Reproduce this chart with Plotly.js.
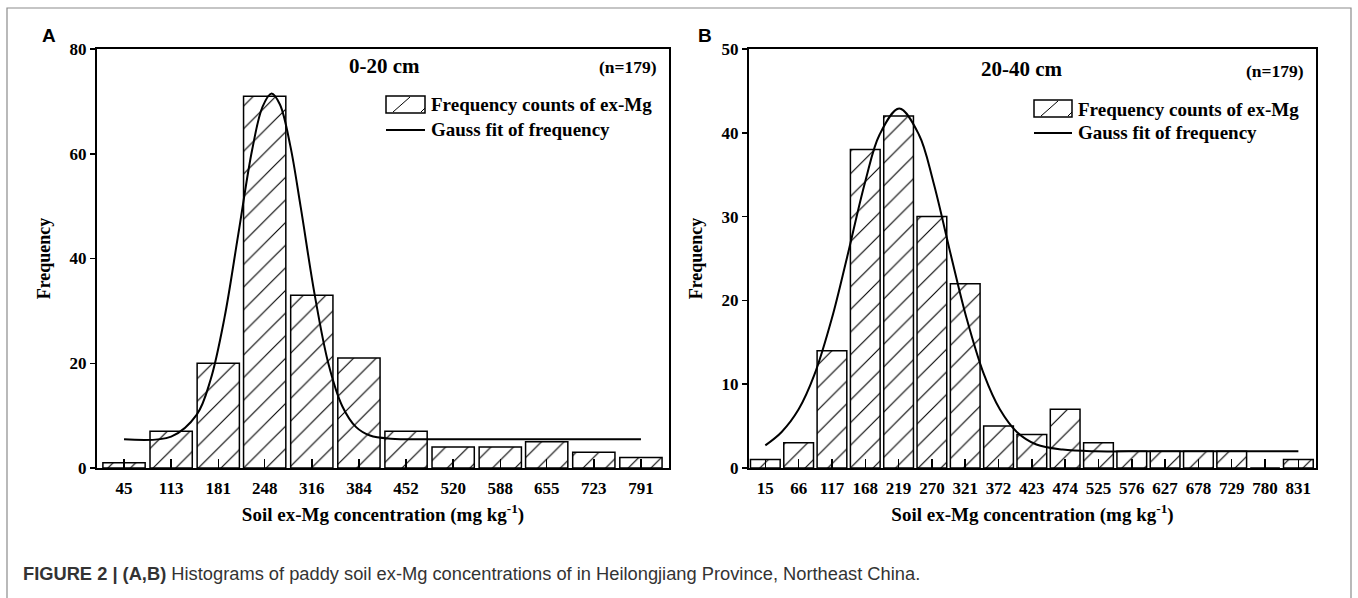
<!DOCTYPE html>
<html>
<head>
<meta charset="utf-8">
<script src="https://cdn.plot.ly/plotly-3.0.1.min.js"></script>
<style>html,body{margin:0;padding:0;background:#fff;}#chart{width:1358px;height:598px;}</style>
</head>
<body>
<div id="chart"></div>
<script>
// ---- Panel A (0-20 cm) ----
var binsA = [45, 113, 181, 248, 316, 384, 452, 520, 588, 655, 723, 791];
var countsA = [1, 7, 20, 71, 33, 21, 7, 4, 4, 5, 3, 2];
var fitXA = [45, 113, 150, 170, 190, 210, 230, 245, 258, 270, 285, 300, 320, 340, 360, 380, 400, 430, 500, 600, 700, 791];
var fitYA = [5.5, 6.0, 10.2, 16.9, 28.7, 44.7, 60.8, 69.0, 71.5, 69.4, 61.5, 49.8, 33.2, 19.9, 11.8, 7.8, 6.2, 5.6, 5.5, 5.5, 5.5, 5.5];

// ---- Panel B (20-40 cm) ----
var binsB = [15, 66, 117, 168, 219, 270, 321, 372, 423, 474, 525, 576, 627, 678, 729, 780, 831];
var countsB = [1, 3, 14, 38, 42, 30, 22, 5, 4, 7, 3, 2, 2, 2, 2, 0, 1];
var fitXB = [15, 40, 66, 90, 117, 140, 168, 190, 220, 250, 272, 300, 323, 350, 374, 400, 430, 470, 520, 600, 700, 831];
var fitYB = [2.7, 4.3, 7.0, 11.1, 17.9, 25.1, 34.2, 39.8, 42.9, 39.8, 34.2, 25.1, 17.9, 11.1, 7.0, 4.3, 2.8, 2.2, 2.0, 2.0, 2.0, 2.0];

var yTicksA = [0, 20, 40, 60, 80];
var yTicksB = [0, 10, 20, 30, 40, 50];

var W = 1358, H = 598;
function px(x) { return x / W; }
function py(y) { return 1 - y / H; }

var serif = 'Liberation Serif, Times New Roman, serif';
var sans = 'Liberation Sans, Arial, sans-serif';

var barPattern = {shape: '/', size: 16, solidity: 0.07, fgcolor: '#000', bgcolor: '#fff', fillmode: 'replace'};

var traces = [
  {type: 'bar', x: binsA, y: countsA, width: 61, xaxis: 'x', yaxis: 'y',
   marker: {color: '#fff', pattern: barPattern, line: {color: '#000', width: 1.5}},
   name: 'Frequency counts of ex-Mg', showlegend: false, hoverinfo: 'x+y'},
  {type: 'scatter', mode: 'lines', x: fitXA, y: fitYA, xaxis: 'x', yaxis: 'y',
   line: {color: '#000', width: 2, shape: 'spline', smoothing: 1},
   name: 'Gauss fit of frequency', showlegend: false},
  {type: 'bar', x: binsB, y: countsB, width: 45.5, xaxis: 'x2', yaxis: 'y2',
   marker: {color: '#fff', pattern: barPattern, line: {color: '#000', width: 1.5}},
   name: 'Frequency counts of ex-Mg', showlegend: false, hoverinfo: 'x+y'},
  {type: 'scatter', mode: 'lines', x: fitXB, y: fitYB, xaxis: 'x2', yaxis: 'y2',
   line: {color: '#000', width: 2, shape: 'spline', smoothing: 1},
   name: 'Gauss fit of frequency', showlegend: false}
];

var tickFont = {family: serif, size: 17, color: '#000', weight: 'bold'};

function xAxis(domain, range, vals) {
  return {
    domain: domain, range: range, type: 'linear',
    tickmode: 'array', tickvals: vals, ticktext: vals.map(String),
    ticks: 'inside', ticklen: 9, tickwidth: 1.5, tickcolor: '#000',
    showline: true, linecolor: '#000', linewidth: 2, mirror: true,
    showgrid: false, zeroline: false,
    tickfont: tickFont, ticklabelstandoff: 4,
    title: {text: '<b>Soil ex-Mg concentration (mg kg<sup>-1</sup>)</b>', font: {family: serif, size: 19, color: '#000'}, standoff: 10},
    fixedrange: true
  };
}
function yAxis(domain, range, vals, anchor) {
  return {
    domain: domain, range: range, anchor: anchor,
    tickmode: 'array', tickvals: vals, ticktext: vals.map(String),
    ticks: 'outside', ticklen: 5, tickwidth: 1.5, tickcolor: '#000',
    showline: true, linecolor: '#000', linewidth: 2, mirror: true,
    showgrid: false, zeroline: false,
    tickfont: tickFont,
    title: {text: '<b>Frequency</b>', font: {family: serif, size: 18, color: '#000'}, standoff: 14},
    fixedrange: true
  };
}

var yDom = [py(468), py(49)];

function ann(x, y, text, size, family, anchor, color) {
  return {xref: 'paper', yref: 'paper', x: px(x), y: py(y), xanchor: anchor || 'center', yanchor: 'middle',
          text: text, showarrow: false, font: {family: family, size: size, color: color || '#000'}};
}

var layout = {
  width: W, height: H,
  margin: {l: 0, r: 0, t: 0, b: 0},
  paper_bgcolor: '#fff', plot_bgcolor: '#fff',
  showlegend: false,
  bargap: 0,
  xaxis: xAxis([px(97), px(669)], [6, 831.5], binsA),
  yaxis: yAxis(yDom, [0, 80], yTicksA, 'x'),
  xaxis2: xAxis([px(749), px(1316)], [-10, 858], binsB),
  yaxis2: yAxis(yDom, [0, 50], yTicksB, 'x2'),
  shapes: [
    // outer figure frame
    {type: 'path', xref: 'paper', yref: 'paper',
     path: 'M ' + px(7) + ' -0.02 L ' + px(7) + ' ' + py(8) + ' L ' + px(1351) + ' ' + py(8) + ' L ' + px(1351) + ' -0.02',
     line: {color: '#8c8c8c', width: 1.2}},
    // legend A
    {type: 'rect', xref: 'paper', yref: 'paper', x0: px(386), x1: px(425), y0: py(113), y1: py(96), line: {color: '#000', width: 1.5}, fillcolor: '#fff'},
    {type: 'line', xref: 'paper', yref: 'paper', x0: px(393), x1: px(410), y0: py(112), y1: py(97), line: {color: '#000', width: 1}},
    {type: 'line', xref: 'paper', yref: 'paper', x0: px(421), x1: px(425), y0: py(112), y1: py(108), line: {color: '#000', width: 1}},
    {type: 'line', xref: 'paper', yref: 'paper', x0: px(386), x1: px(425), y0: py(130), y1: py(130), line: {color: '#000', width: 2}},
    // legend B
    {type: 'rect', xref: 'paper', yref: 'paper', x0: px(1034), x1: px(1072), y0: py(117), y1: py(100), line: {color: '#000', width: 1.5}, fillcolor: '#fff'},
    {type: 'line', xref: 'paper', yref: 'paper', x0: px(1041), x1: px(1058), y0: py(116), y1: py(101), line: {color: '#000', width: 1}},
    {type: 'line', xref: 'paper', yref: 'paper', x0: px(1068), x1: px(1072), y0: py(116), y1: py(112), line: {color: '#000', width: 1}},
    {type: 'line', xref: 'paper', yref: 'paper', x0: px(1034), x1: px(1072), y0: py(133), y1: py(133), line: {color: '#000', width: 2}}
  ],
  annotations: [
    ann(49, 36, '<b>A</b>', 19, sans),
    ann(705, 36, '<b>B</b>', 19, sans),
    ann(384, 66, '<b>0-20 cm</b>', 21, serif),
    ann(628, 67, '<b>(n=179)</b>', 17.5, serif),
    ann(1022, 69, '<b>20-40 cm</b>', 21, serif),
    ann(1275, 71, '<b>(n=179)</b>', 17.5, serif),
    ann(429, 104, '<b>Frequency counts of ex-Mg</b>', 19, serif, 'left'),
    ann(429, 130, '<b>Gauss fit of frequency</b>', 19, serif, 'left'),
    ann(1076, 109, '<b>Frequency counts of ex-Mg</b>', 19, serif, 'left'),
    ann(1076, 133, '<b>Gauss fit of frequency</b>', 19, serif, 'left'),
    ann(21, 573, '<b>FIGURE 2 | (A,B)</b> Histograms of paddy soil ex-Mg concentrations of in Heilongjiang Province, Northeast China.', 18.3, sans, 'left', '#333')
  ]
};

Plotly.newPlot('chart', traces, layout, {displayModeBar: false, staticPlot: true});
</script>
</body>
</html>
